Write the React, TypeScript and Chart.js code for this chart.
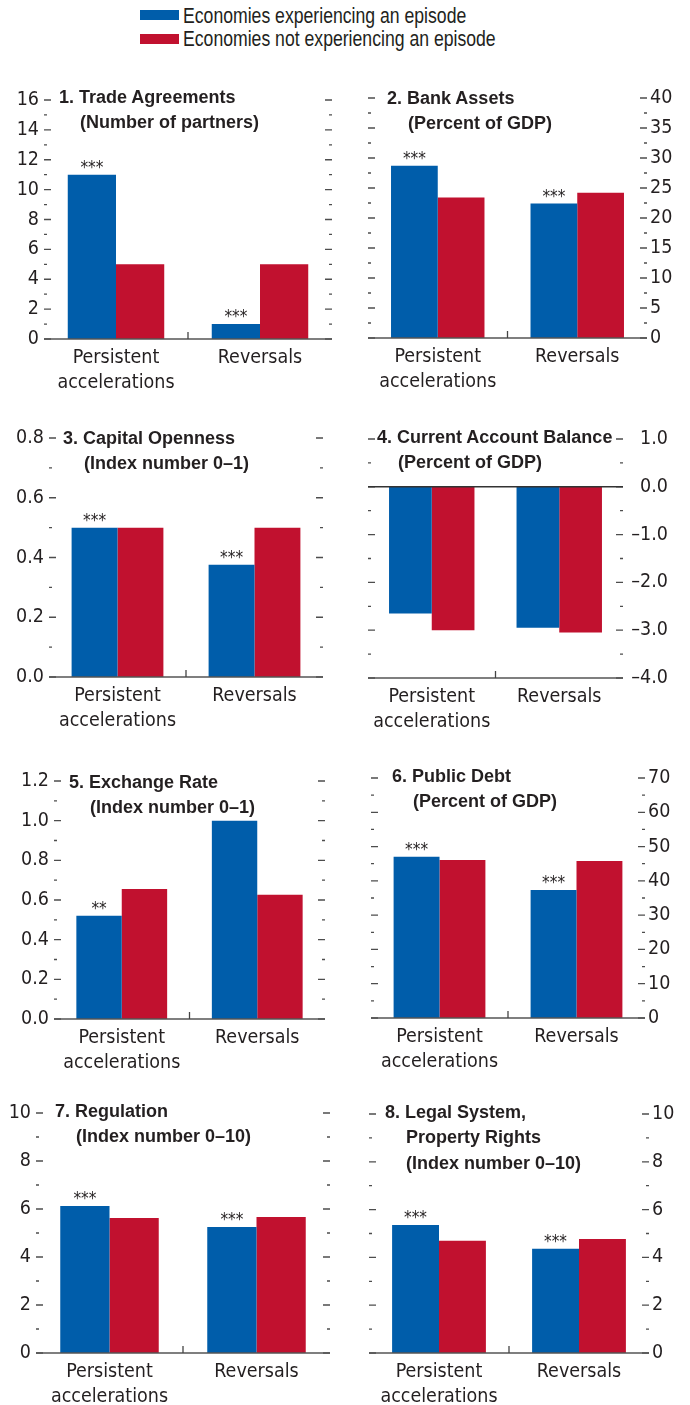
import React, { useEffect, useRef } from 'react';
import { Chart, registerables } from 'chart.js';

Chart.register(...registerables);

const CANVAS_FONT = "'DejaVu Sans Condensed', 'Liberation Sans', sans-serif";
const HTML_FONT = "'Liberation Sans', Arial, sans-serif";
const TEXT = '#231F20';
const BLUE = '#005DAA';
const RED = '#C1112F';
const TICK = '#4D4D4D';

// ---- data ----
const categories: (string | string[])[] = [['Persistent', 'accelerations'], 'Reversals'];
const seriesLabels = ['Economies experiencing an episode', 'Economies not experiencing an episode'];

const tradeEpisode = [11, 1];
const tradeNoEpisode = [5, 5];
const tradeStars = ['***', '***'];
const tradeTicks = [0, 2, 4, 6, 8, 10, 12, 14, 16];

const bankEpisode = [28.7, 22.4];
const bankNoEpisode = [23.4, 24.2];
const bankStars = ['***', '***'];
const bankTicks = [0, 5, 10, 15, 20, 25, 30, 35, 40];

const capitalEpisode = [0.5, 0.376];
const capitalNoEpisode = [0.5, 0.5];
const capitalStars = ['***', '***'];
const capitalTicks = [0, 0.2, 0.4, 0.6, 0.8];

const currentEpisode = [-2.65, -2.95];
const currentNoEpisode = [-3.0, -3.05];
const currentStars = ['', ''];
const currentTicks = [-4, -3, -2, -1, 0, 1];

const exchangeEpisode = [0.52, 1.0];
const exchangeNoEpisode = [0.656, 0.626];
const exchangeStars = ['**', ''];
const exchangeTicks = [0, 0.2, 0.4, 0.6, 0.8, 1.0, 1.2];

const debtEpisode = [47.0, 37.3];
const debtNoEpisode = [46.1, 45.8];
const debtStars = ['***', '***'];
const debtTicks = [0, 10, 20, 30, 40, 50, 60, 70];

const regulationEpisode = [6.13, 5.25];
const regulationNoEpisode = [5.63, 5.67];
const regulationStars = ['***', '***'];
const regulationTicks = [0, 2, 4, 6, 8, 10];

const legalEpisode = [5.36, 4.36];
const legalNoEpisode = [4.7, 4.77];
const legalStars = ['***', '***'];
const legalTicks = [0, 2, 4, 6, 8, 10];

interface PanelCfg {
  title: string[];
  episode: number[];
  noEpisode: number[];
  stars: string[];
  ticks: number[];
  decimals: number;
  side: 'left' | 'right';
  crossAlign: 'near' | 'far';
  labelEdge?: number;
  L: number; R: number; T: number; B: number;
  tx: number; ty: number;
}

const panels: PanelCfg[] = [
  { title: ['1. Trade Agreements', '(Number of partners)'], episode: tradeEpisode, noEpisode: tradeNoEpisode, stars: tradeStars, ticks: tradeTicks, decimals: 0, side: 'left', crossAlign: 'near', L: 44, R: 332, T: 100, B: 339, tx: 59, ty: 97 },
  { title: ['2. Bank Assets', '(Percent of GDP)'], episode: bankEpisode, noEpisode: bankNoEpisode, stars: bankStars, ticks: bankTicks, decimals: 0, side: 'right', crossAlign: 'near', L: 368, R: 647, T: 98, B: 338, tx: 387, ty: 98 },
  { title: ['3. Capital Openness', '(Index number 0–1)'], episode: capitalEpisode, noEpisode: capitalNoEpisode, stars: capitalStars, ticks: capitalTicks, decimals: 1, side: 'left', crossAlign: 'near', L: 49, R: 323, T: 438, B: 677, tx: 63, ty: 438 },
  { title: ['4. Current Account Balance', '(Percent of GDP)'], episode: currentEpisode, noEpisode: currentNoEpisode, stars: currentStars, ticks: currentTicks, decimals: 1, side: 'right', crossAlign: 'far', labelEdge: 668, L: 368, R: 623, T: 439, B: 678, tx: 377, ty: 437 },
  { title: ['5. Exchange Rate', '(Index number 0–1)'], episode: exchangeEpisode, noEpisode: exchangeNoEpisode, stars: exchangeStars, ticks: exchangeTicks, decimals: 1, side: 'left', crossAlign: 'near', L: 54, R: 325, T: 781, B: 1019, tx: 69, ty: 782 },
  { title: ['6. Public Debt', '(Percent of GDP)'], episode: debtEpisode, noEpisode: debtNoEpisode, stars: debtStars, ticks: debtTicks, decimals: 0, side: 'right', crossAlign: 'near', L: 371, R: 645, T: 778, B: 1018, tx: 392, ty: 776 },
  { title: ['7. Regulation', '(Index number 0–10)'], episode: regulationEpisode, noEpisode: regulationNoEpisode, stars: regulationStars, ticks: regulationTicks, decimals: 0, side: 'left', crossAlign: 'near', L: 36, R: 330, T: 1113, B: 1353, tx: 55, ty: 1111 },
  { title: ['8. Legal System,', 'Property Rights', '(Index number 0–10)'], episode: legalEpisode, noEpisode: legalNoEpisode, stars: legalStars, ticks: legalTicks, decimals: 0, side: 'right', crossAlign: 'near', L: 369, R: 649, T: 1114, B: 1353, tx: 385, ty: 1112 },
];

function fmt(v: number, d: number): string {
  const s = Math.abs(v).toFixed(d);
  return v < 0 ? '\u2013' + s : s;
}

function Panel({ p }: { p: PanelCfg }) {
  const ref = useRef<HTMLCanvasElement>(null);
  const cx = p.side === 'left' ? 0 : 345;
  const cw = 345;
  const cy = p.T - 25;
  const ch = p.B + 60 - cy;

  useEffect(() => {
    const canvas = ref.current;
    if (!canvas) return;
    const majors = p.ticks;
    const rightEdge = p.labelEdge ?? cx + cw;
    const yWidth = p.side === 'left' ? p.L - cx : rightEdge - p.R;
    const padding = p.side === 'left'
      ? { left: 0, right: cx + cw - p.R, top: 25, bottom: 0 }
      : { left: p.L - cx, right: cx + cw - rightEdge, top: 25, bottom: 0 };

    const decor = {
      id: 'decor',
      afterDatasetsDraw(chart: any) {
        const { ctx, chartArea } = chart;
        const { left, right } = chartArea;
        const x = chart.scales.x;
        const y = chart.scales.y;
        ctx.save();
        // tick dashes on both sides
        ctx.strokeStyle = TICK;
        ctx.lineWidth = 1.3;
        for (const t of y.ticks) {
          const py = y.getPixelForValue(t.value);
          const len = majors.includes(t.value) ? 7 : 3;
          ctx.beginPath();
          ctx.moveTo(left, py);
          ctx.lineTo(left + len, py);
          ctx.moveTo(right - len, py);
          ctx.lineTo(right, py);
          ctx.stroke();
        }
        // baseline (bottom axis)
        const base = y.getPixelForValue(y.min);
        ctx.strokeStyle = '#555555';
        ctx.lineWidth = 1.6;
        ctx.beginPath();
        ctx.moveTo(left, base);
        ctx.lineTo(right, base);
        ctx.stroke();
        // zero line when the range includes negatives
        if (y.min < 0) {
          const z = y.getPixelForValue(0);
          ctx.strokeStyle = '#333333';
          ctx.lineWidth = 1.5;
          ctx.beginPath();
          ctx.moveTo(left, z);
          ctx.lineTo(right, z);
          ctx.stroke();
        }
        // category separator tick
        const mx = (x.getPixelForValue(0) + x.getPixelForValue(1)) / 2;
        ctx.strokeStyle = '#444444';
        ctx.lineWidth = 1.3;
        ctx.beginPath();
        ctx.moveTo(mx, base);
        ctx.lineTo(mx, base - 7);
        ctx.stroke();
        // significance stars
        const meta = chart.getDatasetMeta(0);
        ctx.fillStyle = TEXT;
        ctx.font = `17px ${CANVAS_FONT}`;
        ctx.textAlign = 'center';
        ctx.textBaseline = 'alphabetic';
        meta.data.forEach((bar: any, i: number) => {
          if (p.stars[i]) ctx.fillText(p.stars[i], bar.x, bar.y - 2);
        });
        ctx.restore();
      },
    };

    const chart = new Chart(canvas, {
      type: 'bar',
      data: {
        labels: categories as any,
        datasets: [
          { label: seriesLabels[0], data: p.episode, backgroundColor: BLUE, borderWidth: 0, categoryPercentage: 0.67, barPercentage: 1 },
          { label: seriesLabels[1], data: p.noEpisode, backgroundColor: RED, borderWidth: 0, categoryPercentage: 0.67, barPercentage: 1 },
        ],
      },
      options: {
        responsive: false,
        animation: false,
        devicePixelRatio: 1,
        layout: { padding },
        plugins: { legend: { display: false }, tooltip: { enabled: false } },
        scales: {
          x: {
            type: 'category',
            offset: true,
            grid: { display: false, drawTicks: false },
            border: { display: false },
            ticks: {
              color: TEXT,
              font: { family: CANVAS_FONT, size: 19.5, lineHeight: 1.25 },
              padding: 7,
              maxRotation: 0,
              minRotation: 0,
              autoSkip: false,
            },
            afterFit: (s: any) => { s.height = 60; },
          },
          y: {
            type: 'linear',
            position: p.side,
            min: majors[0],
            max: majors[majors.length - 1],
            grid: { display: false, drawTicks: false },
            border: { display: false },
            afterBuildTicks: (s: any) => {
              const out: { value: number }[] = [];
              majors.forEach((v, i) => {
                out.push({ value: v });
                if (i < majors.length - 1) out.push({ value: (v + majors[i + 1]) / 2 });
              });
              s.ticks = out;
            },
            afterFit: (s: any) => { s.width = yWidth; },
            ticks: {
              autoSkip: false,
              color: TEXT,
              padding: p.side === 'left' ? 5 : 3,
              crossAlign: p.crossAlign,
              font: { family: CANVAS_FONT, size: 19.5 },
              callback: (v: any) => (majors.includes(Number(v)) ? fmt(Number(v), p.decimals) : ''),
            },
          },
        },
      } as any,
      plugins: [decor],
    });
    return () => chart.destroy();
  }, []);

  return (
    <canvas
      ref={ref}
      width={cw}
      height={ch}
      style={{ position: 'absolute', left: cx, top: cy, width: cw, height: ch }}
    />
  );
}

const legendText: React.CSSProperties = {
  position: 'absolute',
  left: 183,
  font: `21.5px ${HTML_FONT}`,
  lineHeight: '24px',
  color: TEXT,
  whiteSpace: 'nowrap',
  transform: 'scaleX(0.82)',
  transformOrigin: 'left center',
};

export default function App() {
  return (
    <div style={{ position: 'absolute', left: 0, top: 0, width: 690, height: 1405, background: '#ffffff', overflow: 'hidden' }}>
      {/* legend */}
      <div style={{ position: 'absolute', left: 140, top: 10, width: 39, height: 10, background: BLUE }} />
      <div style={{ position: 'absolute', left: 140, top: 33.5, width: 39, height: 10, background: RED }} />
      <div style={{ ...legendText, top: 3.5 }}>{seriesLabels[0]}</div>
      <div style={{ ...legendText, top: 27 }}>{seriesLabels[1]}</div>

      {panels.map((p, i) => (
        <Panel key={i} p={p} />
      ))}

      {panels.map((p, i) => (
        <div
          key={'t' + i}
          style={{
            position: 'absolute',
            left: p.tx,
            top: p.ty - 12.5,
            font: `bold 18px ${HTML_FONT}`,
            lineHeight: '25.5px',
            color: TEXT,
            whiteSpace: 'nowrap',
          }}
        >
          {p.title.map((t, j) => (
            <div key={j} style={{ paddingLeft: j ? 21 : 0 }}>{t}</div>
          ))}
        </div>
      ))}
    </div>
  );
}
